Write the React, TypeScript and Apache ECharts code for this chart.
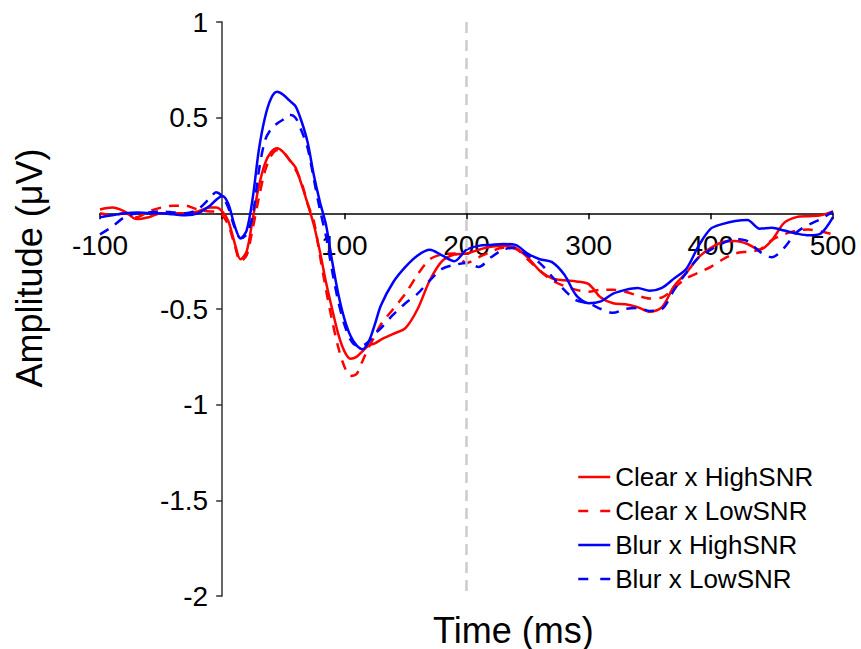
import React, { useEffect, useRef } from "react";
import * as echarts from "echarts";

const times = [
  -100, -90, -80, -70, -60, -50, -40, -30, -20, -10, -5,
  0, 5, 10, 15, 20, 25, 30, 35, 40, 45, 50, 55, 60, 65, 70, 75, 80, 85, 90, 95,
  100, 105, 110, 115, 120, 125, 130,
  140, 150, 160, 170, 180, 190, 200, 210, 220, 230, 240, 250, 260, 270, 280, 290,
  300, 310, 320, 330, 340, 350, 360, 370, 380, 390, 400, 410, 420, 430, 440, 450,
  460, 470, 480, 490, 500,
];

const clearHigh = [
  0.02, 0.03, 0.01, -0.03, -0.02, 0.0, 0.0, 0.0, 0.01, 0.03, 0.03,
  0.01, -0.04, -0.15, -0.24, -0.2, -0.03, 0.14, 0.26, 0.32, 0.34, 0.32, 0.28, 0.24, 0.15, 0.05, -0.06, -0.2, -0.36, -0.5, -0.63,
  -0.72, -0.76, -0.75, -0.72, -0.69, -0.68, -0.66,
  -0.63, -0.6, -0.5, -0.35, -0.25, -0.215, -0.21, -0.19, -0.175, -0.17, -0.18, -0.23, -0.3, -0.34, -0.35, -0.356,
  -0.37, -0.44, -0.47, -0.475, -0.49, -0.515, -0.49, -0.38, -0.31, -0.23, -0.18, -0.15, -0.145, -0.16, -0.19, -0.14,
  -0.05, -0.02, -0.015, -0.01, 0.01,
];

const clearLow = [
  0.0, -0.01, 0.0, -0.02, 0.01, 0.03, 0.04, 0.04, 0.02, 0.01, 0.01,
  -0.01, -0.06, -0.16, -0.25, -0.22, -0.08, 0.08, 0.22, 0.3, 0.33, 0.32, 0.28, 0.23, 0.16, 0.05, -0.04, -0.22, -0.4, -0.56, -0.7,
  -0.8, -0.85, -0.84, -0.77, -0.7, -0.64, -0.58,
  -0.5, -0.42, -0.32, -0.24, -0.215, -0.21, -0.26, -0.23, -0.2, -0.18, -0.185, -0.24, -0.3, -0.35, -0.38, -0.4,
  -0.41, -0.4, -0.4, -0.41, -0.43, -0.445, -0.44, -0.39, -0.34, -0.31, -0.28, -0.24, -0.21, -0.2, -0.19, -0.14,
  -0.11, -0.09, -0.085, -0.095, -0.11,
];

const blurHigh = [
  -0.02, -0.01, 0.0, 0.005, 0.0, 0.0, -0.005, -0.01, 0.0, 0.04, 0.07,
  0.09, 0.05, -0.06, -0.13, -0.09, 0.08, 0.33, 0.5, 0.6, 0.635, 0.62, 0.59, 0.56, 0.48, 0.37, 0.2, 0.06, -0.06, -0.25, -0.42,
  -0.55, -0.64, -0.69, -0.71, -0.67, -0.58, -0.48,
  -0.36, -0.28, -0.22, -0.19, -0.22, -0.25, -0.19, -0.17, -0.165, -0.16, -0.165, -0.21, -0.24, -0.255, -0.32, -0.43,
  -0.47, -0.46, -0.42, -0.4, -0.39, -0.405, -0.39, -0.34, -0.29, -0.17, -0.08, -0.055, -0.04, -0.035, -0.08, -0.075,
  -0.09, -0.105, -0.115, -0.105, -0.02,
];

const blurLow = [
  -0.11, -0.07, -0.02, 0.0, 0.005, 0.01, 0.005, 0.0, 0.02, 0.08, 0.11,
  0.09, 0.03, -0.07, -0.13, -0.11, -0.01, 0.22, 0.38, 0.44, 0.47, 0.49, 0.515, 0.5, 0.43, 0.34, 0.18, 0.02, -0.12, -0.3, -0.46,
  -0.58, -0.66, -0.69, -0.69, -0.67, -0.63, -0.6,
  -0.53, -0.47, -0.42, -0.35, -0.29, -0.27, -0.26, -0.28, -0.23, -0.19, -0.18, -0.22, -0.26, -0.33, -0.4, -0.455,
  -0.47, -0.5, -0.52, -0.5, -0.495, -0.51, -0.5, -0.4, -0.31, -0.23, -0.19, -0.155, -0.135, -0.145, -0.2, -0.23,
  -0.18, -0.1, -0.06, -0.03, 0.01,
];

const seriesNames = ["Clear x HighSNR", "Clear x LowSNR", "Blur x HighSNR", "Blur x LowSNR"];
const seriesValues = [clearHigh, clearLow, blurHigh, blurLow];
const seriesColors = ["#ff0000", "#ff0000", "#0000ff", "#0000ff"];
const seriesDashed = [false, true, false, true];

const xTicks = { min: -100, max: 500, interval: 100 };
const yTicks = { min: -2, max: 1, interval: 0.5 };
const markX = 200;

const FONT = "'Liberation Sans', Arial, Helvetica, sans-serif";

const GRID = { left: 100, top: 22, width: 733, height: 574 };

export default function App() {
  const ref = useRef<HTMLDivElement>(null);

  useEffect(() => {
    if (!ref.current) return;
    const chart = echarts.init(ref.current, undefined, { renderer: "svg" });

    // pixel offsets so the axes sit at the zero lines (layout only)
    const xAxisOffset = -GRID.height * (0 - yTicks.min) / (yTicks.max - yTicks.min);
    const yAxisOffset = -GRID.width * (0 - xTicks.min) / (xTicks.max - xTicks.min);

    const series: any[] = seriesNames.map((name, i) => ({
      name,
      type: "line",
      data: times.map((t, j) => [t, seriesValues[i][j]]),
      smooth: 0.3,
      symbol: "none",
      lineStyle: {
        color: seriesColors[i],
        width: 2.5,
        type: seriesDashed[i] ? [10, 8] : "solid",
      },
      itemStyle: { color: seriesColors[i] },
      z: 3,
    }));

    series.push({
      type: "line",
      data: [],
      silent: true,
      markLine: {
        silent: true,
        symbol: "none",
        animation: false,
        label: { show: false },
        lineStyle: { color: "#cccccc", width: 2.5, type: [11, 7] },
        data: [[{ coord: [markX, yTicks.max] }, { coord: [markX, yTicks.min] }]],
      },
      z: 1,
    });

    chart.setOption({
      animation: false,
      backgroundColor: "#ffffff",
      textStyle: { fontFamily: FONT },
      grid: { ...GRID, containLabel: false },
      legend: {
        orient: "vertical",
        left: 572,
        top: 459,
        itemWidth: 32,
        itemHeight: 14,
        itemGap: 8,
        itemStyle: { opacity: 0 },
        data: seriesNames.map((name, i) => ({
          name,
          itemStyle: { opacity: 0 },
          lineStyle: {
            color: seriesColors[i],
            width: 2.5,
            type: seriesDashed[i] ? [10, 12] : "solid",
          },
        })),
        textStyle: { fontSize: 26, color: "#000", fontFamily: FONT, lineHeight: 26 },
      },
      xAxis: {
        type: "value",
        min: xTicks.min,
        max: xTicks.max,
        interval: xTicks.interval,
        position: "bottom",
        offset: xAxisOffset,
        axisLine: { show: true, onZero: false, lineStyle: { color: "#000", width: 1.5 } },
        axisTick: { show: true, length: 6, lineStyle: { color: "#000", width: 1.5 } },
        axisLabel: {
          fontSize: 28,
          color: "#000",
          fontFamily: FONT,
          margin: 18,
          formatter: (v: number) => (v === 0 ? "" : String(v)),
        },
        splitLine: { show: false },
      },
      yAxis: {
        type: "value",
        min: yTicks.min,
        max: yTicks.max,
        interval: yTicks.interval,
        position: "left",
        offset: yAxisOffset,
        axisLine: { show: true, onZero: false, lineStyle: { color: "#333", width: 1.5 } },
        axisTick: { show: true, length: 6, lineStyle: { color: "#333", width: 1.5 } },
        axisLabel: {
          fontSize: 28,
          color: "#000",
          fontFamily: FONT,
          margin: 14,
          formatter: (v: number) => (v === 0 ? "" : String(v)),
        },
        splitLine: { show: false },
      },
      graphic: [
        {
          type: "text",
          left: 513 - 80,
          top: 612,
          style: { text: "Time (ms)", font: `36px ${FONT}`, fill: "#000" },
        },
        {
          type: "text",
          x: 29,
          y: 268,
          rotation: Math.PI / 2,
          style: {
            text: "Amplitude (μV)",
            font: `36px ${FONT}`,
            fill: "#000",
            align: "center",
            verticalAlign: "middle",
          },
        },
      ],
      series,
    });

    return () => chart.dispose();
  }, []);

  return (
    <div
      ref={ref}
      style={{ position: "fixed", left: 0, top: 0, width: 861, height: 649, background: "#fff" }}
    />
  );
}
